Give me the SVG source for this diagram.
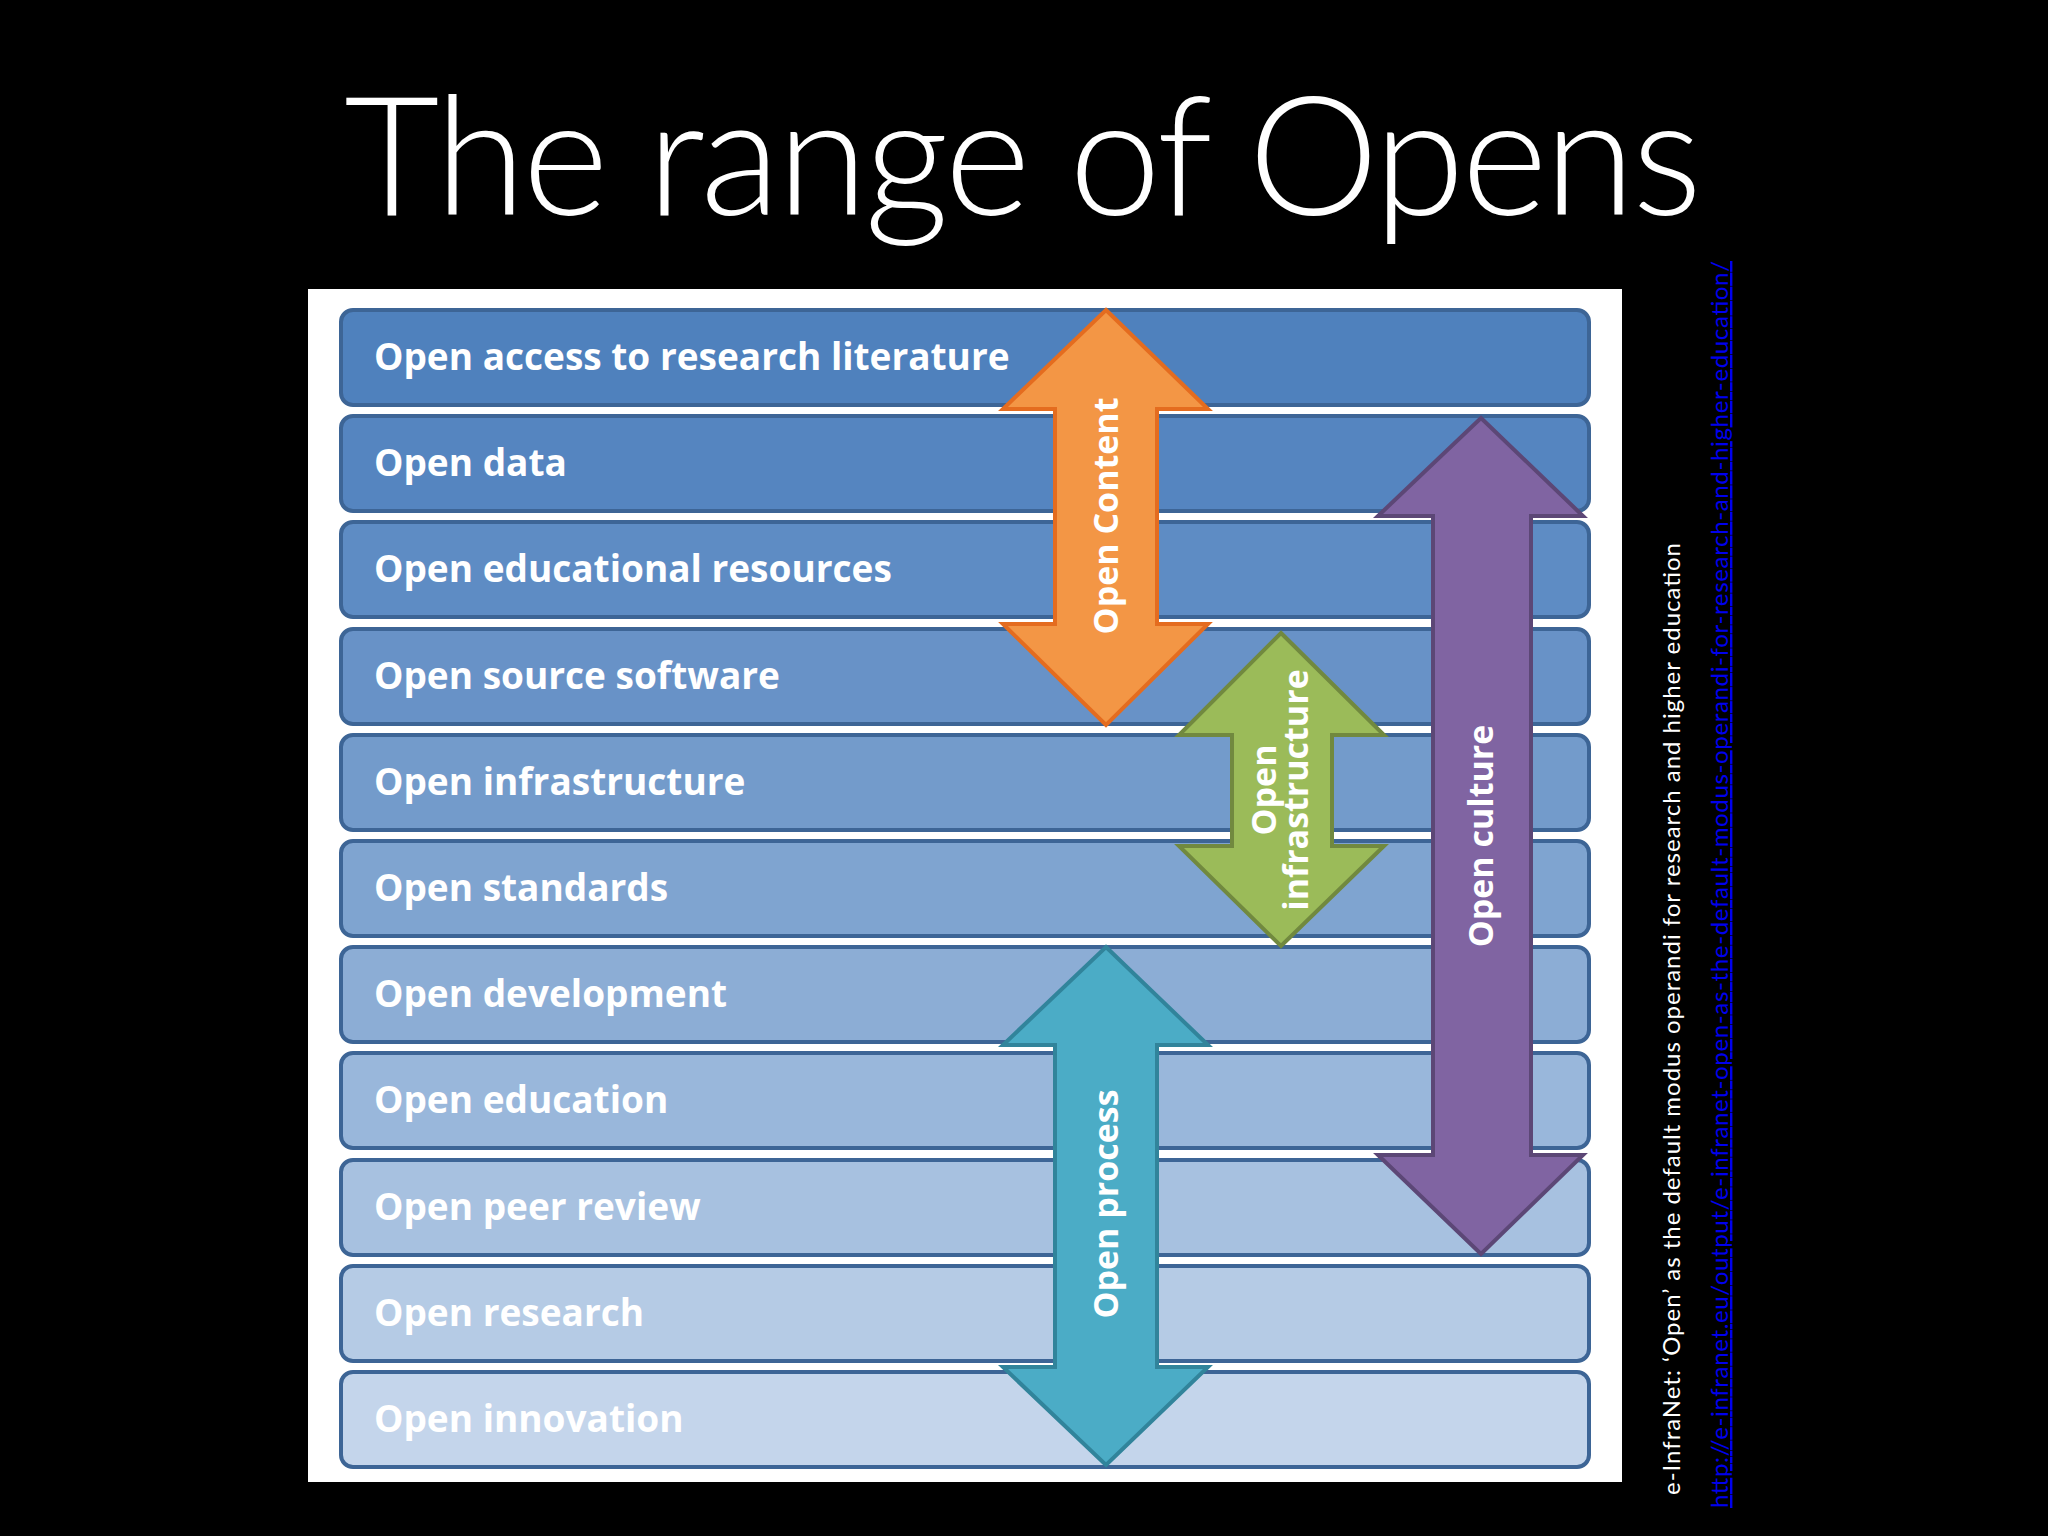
<svg xmlns="http://www.w3.org/2000/svg" width="2048" height="1536" viewBox="0 0 2048 1536">
<style>
.bar{stroke:#3d6596;stroke-width:4}
.bt{font-family:"Open Sans","DejaVu Sans",sans-serif;font-weight:bold;font-size:37px;fill:#fff}
.al{font-family:"Open Sans","DejaVu Sans",sans-serif;font-weight:bold;font-size:34px;fill:#fff;text-anchor:middle}
</style>
<rect width="2048" height="1536" fill="#000"/>
<text x="1023" y="215" font-family="Lato, 'Open Sans', sans-serif" font-weight="300" font-size="165" fill="#fff" text-anchor="middle" textLength="1358">The range of Opens</text>
<rect x="308" y="289" width="1314" height="1193" fill="#fff"/>
<g id="bars">
<g id="b1"><rect class="bar" x="341" y="310" width="1248" height="95" rx="12" fill="#4f81bd"/><text class="bt" x="374" y="370">Open access to research literature</text></g>
<g id="b2"><rect class="bar" x="341" y="416" width="1248" height="95" rx="12" fill="#5585c0"/><text class="bt" x="374" y="476">Open data</text></g>
<g id="b3"><rect class="bar" x="341" y="522" width="1248" height="95" rx="12" fill="#5e8cc4"/><text class="bt" x="374" y="582">Open educational resources</text></g>
<g id="b4"><rect class="bar" x="341" y="629" width="1248" height="95" rx="12" fill="#6892c7"/><text class="bt" x="374" y="689">Open source software</text></g>
<g id="b5"><rect class="bar" x="341" y="735" width="1248" height="95" rx="12" fill="#739bcb"/><text class="bt" x="374" y="795">Open infrastructure</text></g>
<g id="b6"><rect class="bar" x="341" y="841" width="1248" height="95" rx="12" fill="#7fa4d0"/><text class="bt" x="374" y="901">Open standards</text></g>
<g id="b7"><rect class="bar" x="341" y="947" width="1248" height="95" rx="12" fill="#8cadd5"/><text class="bt" x="374" y="1007">Open development</text></g>
<g id="b8"><rect class="bar" x="341" y="1053" width="1248" height="95" rx="12" fill="#99b7db"/><text class="bt" x="374" y="1113">Open education</text></g>
<g id="b9"><rect class="bar" x="341" y="1160" width="1248" height="95" rx="12" fill="#a7c1e0"/><text class="bt" x="374" y="1220">Open peer review</text></g>
<g id="b10"><rect class="bar" x="341" y="1266" width="1248" height="95" rx="12" fill="#b5cbe5"/><text class="bt" x="374" y="1326">Open research</text></g>
<g id="b11"><rect class="bar" x="341" y="1372" width="1248" height="95" rx="12" fill="#c4d5eb"/><text class="bt" x="374" y="1432">Open innovation</text></g>
</g>
<g id="arrows">
<g id="content"><polygon points="1106,310 1208,409 1157,409 1157,624 1208,624 1106,725 1003,624 1055,624 1055,409 1003,409" fill="#f39645" stroke="#e46c1f" stroke-width="4"/><text class="al" transform="translate(1118,516) rotate(-90)">Open Content</text></g>
<g id="infra"><polygon points="1281,633 1384,735 1332,735 1332,846 1384,846 1281,946 1179,846 1232,846 1232,735 1179,735" fill="#9bbb59" stroke="#71893f" stroke-width="4"/><text class="al" transform="translate(1276,790) rotate(-90)">Open</text><text class="al" transform="translate(1308,790) rotate(-90)">infrastructure</text></g>
<g id="culture"><polygon points="1481,418 1583,516 1531,516 1531,1155 1583,1155 1481,1254 1378,1155 1433,1155 1433,516 1378,516" fill="#8064a2" stroke="#5c4776" stroke-width="4"/><text class="al" transform="translate(1493,836) rotate(-90)">Open culture</text></g>
<g id="process"><polygon points="1106,947 1208,1045 1157,1045 1157,1367 1208,1367 1106,1465 1003,1367 1055,1367 1055,1045 1003,1045" fill="#4bacc6" stroke="#31849b" stroke-width="4"/><text class="al" transform="translate(1118,1204) rotate(-90)">Open process</text></g>
</g>
<text transform="translate(1680,1495) rotate(-90)" font-family="Lato, 'Open Sans', sans-serif" font-size="24" fill="#fff" textLength="952">e-InfraNet: ‘Open’ as the default modus operandi for research and higher education</text>
<text transform="translate(1728,1508) rotate(-90)" font-family="Lato, 'Open Sans', sans-serif" font-size="24" fill="#0000ee" text-decoration="underline" textLength="1247">http://e-infranet.eu/output/e-infranet-open-as-the-default-modus-operandi-for-research-and-higher-education/</text>
</svg>
